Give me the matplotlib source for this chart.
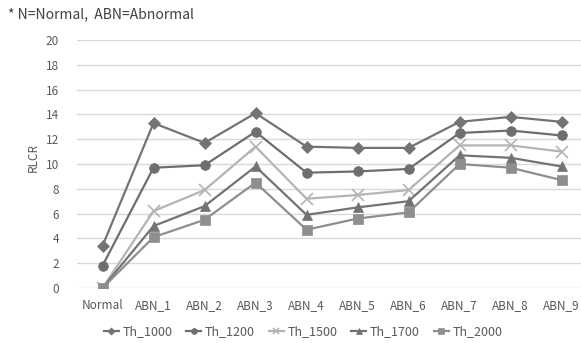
import matplotlib.pyplot as plt

plt.rcParams['font.family'] = ['Noto Sans CJK KR', 'DejaVu Sans']

categorias = ["Normal", "ABN_1", "ABN_2", "ABN_3", "ABN_4",
              "ABN_5", "ABN_6", "ABN_7", "ABN_8", "ABN_9"]

th_1000 = [3.4, 13.3, 11.7, 14.1, 11.4, 11.3, 11.3, 13.4, 13.8, 13.4]
th_1200 = [1.8, 9.7, 9.9, 12.6, 9.3, 9.4, 9.6, 12.5, 12.7, 12.3]
th_1500 = [0.0, 6.2, 7.9, 11.4, 7.2, 7.5, 7.9, 11.5, 11.5, 11.0]
th_1700 = [0.0, 5.0, 6.6, 9.8, 5.9, 6.5, 7.0, 10.7, 10.5, 9.8]
th_2000 = [0.0, 4.1, 5.5, 8.5, 4.7, 5.6, 6.1, 10.0, 9.7, 8.7]

series = [
    ("Th_1000", th_1000, "#737373", "D", 6),
    ("Th_1200", th_1200, "#6e6e6e", "o", 7),
    ("Th_1500", th_1500, "#b4b4b4", "x", 8),
    ("Th_1700", th_1700, "#737373", "^", 7),
    ("Th_2000", th_2000, "#8e8e8e", "s", 7),
]

fig = plt.figure(figsize=(5.81, 3.43), dpi=100)
ax = fig.add_axes([77 / 581, 55 / 343, 504 / 581, 248 / 343])

x = list(range(len(categorias)))
for nombre, valores, color, marcador, tam in series:
    ax.plot(x, valores, color=color, marker=marcador, markersize=tam,
            linewidth=1.6, label=nombre, markeredgewidth=1.2 if marcador == "x" else 0.5)

ax.set_xlim(-0.5, 9.38)
ax.set_ylim(0, 20)
ax.set_yticks(range(0, 21, 2))
ax.set_xticks(x)
ax.set_xticklabels(categorias)
ax.tick_params(axis='both', length=0, labelsize=8.5, colors="#595959")
ax.tick_params(axis='y', pad=13)
ax.tick_params(axis='x', pad=8)
ax.grid(axis='y', color="#d9d9d9", linewidth=1)
ax.set_axisbelow(True)
for lado in ax.spines.values():
    lado.set_visible(False)

fig.text(33 / 581, 1 - 158 / 343, "RLCR", rotation=90, ha='center', va='center',
         fontsize=8.5, color="#595959")
fig.text(8 / 581, 1 - 14 / 343, "* N=Normal,  ABN=Abnormal", ha='left', va='center',
         fontsize=10, color="#404040")

fig.legend(loc='center', bbox_to_anchor=(303 / 581, 1 - 332 / 343), ncol=5,
           frameon=False, fontsize=9, markerscale=0.6, handlelength=1.2,
           handletextpad=0.3, columnspacing=1.1, labelcolor="#595959",
           borderaxespad=0, borderpad=0)

fig.savefig("out.png", dpi=100)
